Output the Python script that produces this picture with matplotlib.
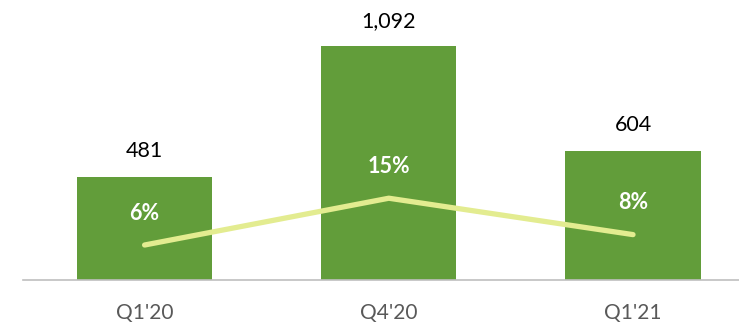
import matplotlib
matplotlib.use('Agg')
import matplotlib.pyplot as plt
import numpy as np

plt.rcParams['font.family'] = ['Lato', 'DejaVu Sans']

quarters = ["Q1'20", "Q4'20", "Q1'21"]
volumes = [481, 1092, 604]
margins = [6, 15, 8]

BAR_GREEN = '#629D3A'
LINE_YELLOW = '#E3EC90'
AXIS_GRAY = '#BFBFBF'
TICK_GRAY = '#595959'

fig = plt.figure(figsize=(7.39, 3.22), dpi=100)
ax = fig.add_axes([22.5/739, 1 - 280/322, 1 - 22.5/739, 270/322])
x = np.arange(len(quarters))

ax.bar(x, volumes, width=0.553, color=BAR_GREEN, zorder=2)
for xi, v in zip(x, volumes):
    ax.annotate(f'{v:,}', (xi, v), xytext=(0, 18.5), textcoords='offset points',
                ha='center', va='center', fontsize=15.5, color='black')

ax.set_xlim(-0.5, 2.434)
ax.set_ylim(0, 1262)
ax.set_xticks(x)
ax.set_xticklabels(quarters, fontsize=15, color=TICK_GRAY)
ax.tick_params(axis='x', length=0, pad=16.5)
ax.set_yticks([])
for side in ['top', 'right', 'left']:
    ax.spines[side].set_visible(False)
ax.spines['bottom'].set_color(AXIS_GRAY)
ax.spines['bottom'].set_linewidth(1.2)

# margin line on its own scale
ax2 = ax.twinx()
ax2.plot(x, margins, color=LINE_YELLOW, linewidth=3.8, solid_capstyle='round', zorder=3)
for xi, m in zip(x, margins):
    ax2.annotate(f'{m}%', (xi, m), xytext=(0, 23), textcoords='offset points',
                 ha='center', va='center', fontsize=15.5, fontweight='bold', color='white')
ax2.set_ylim(-0.73, 51.2)
ax2.set_yticks([])
ax2.axis('off')

fig.savefig('out.png', dpi=100)
